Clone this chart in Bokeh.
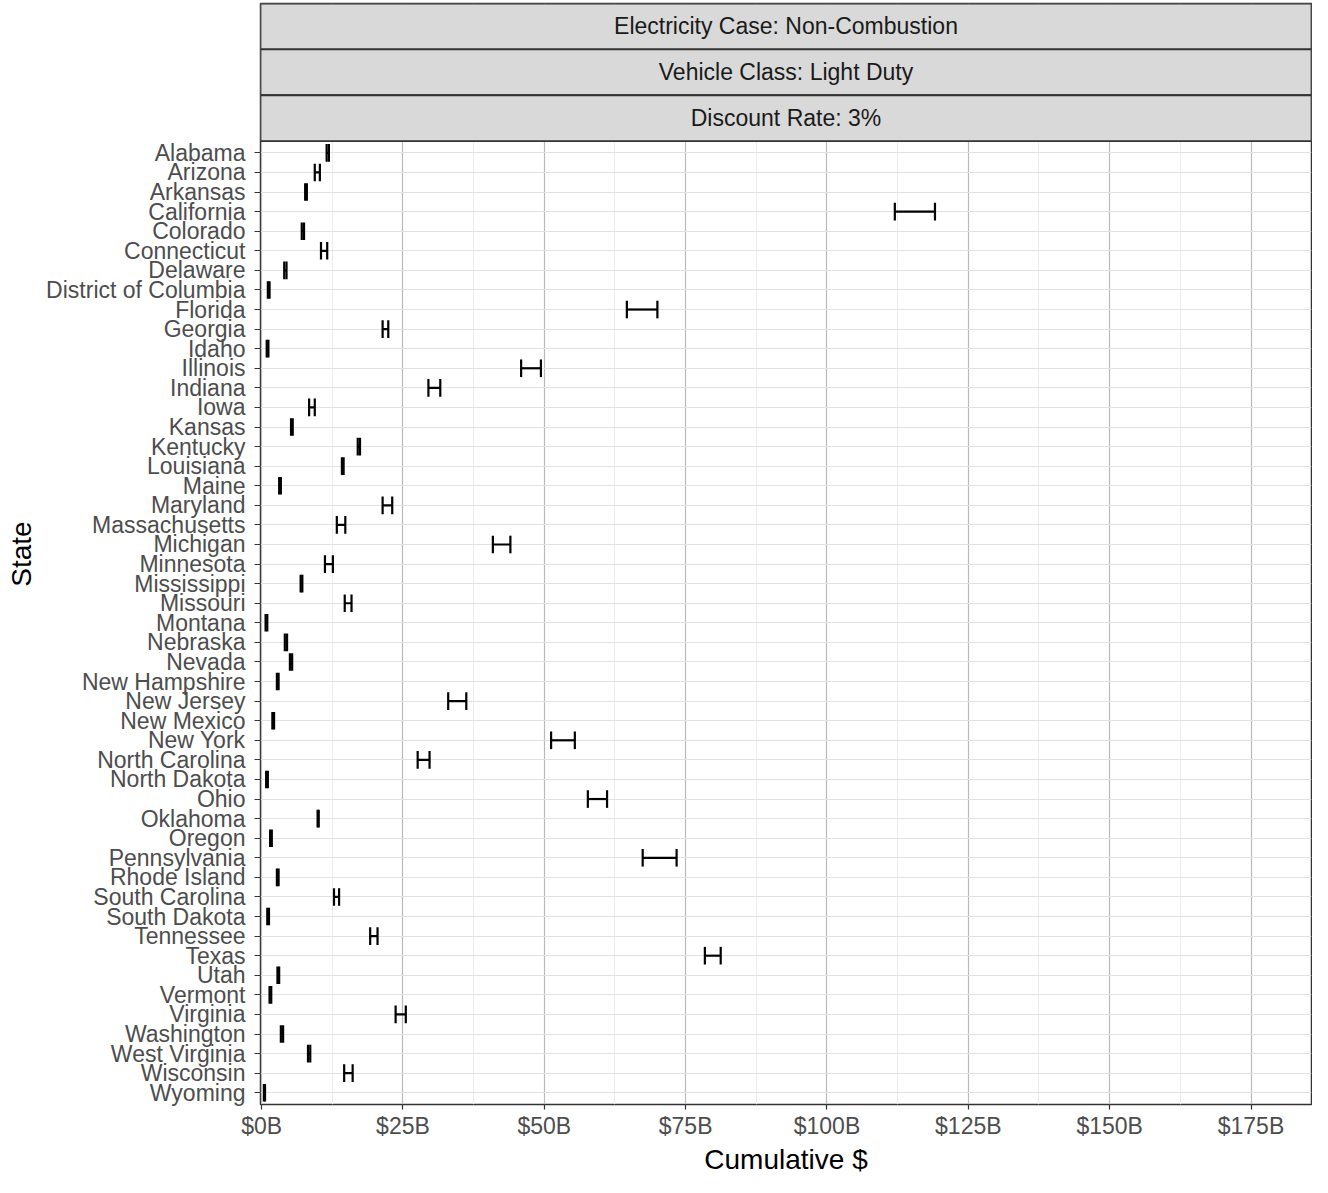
from bokeh.plotting import figure
from bokeh.models import Range1d, FixedTicker, ColumnDataSource
from bokeh.core.properties import value
from bokeh.embed import file_html
from bokeh.resources import INLINE

STATES = ["Alabama", "Arizona", "Arkansas", "California", "Colorado", "Connecticut",
          "Delaware", "District of Columbia", "Florida", "Georgia", "Idaho", "Illinois",
          "Indiana", "Iowa", "Kansas", "Kentucky", "Louisiana", "Maine", "Maryland",
          "Massachusetts", "Michigan", "Minnesota", "Mississippi", "Missouri", "Montana",
          "Nebraska", "Nevada", "New Hampshire", "New Jersey", "New Mexico", "New York",
          "North Carolina", "North Dakota", "Ohio", "Oklahoma", "Oregon", "Pennsylvania",
          "Rhode Island", "South Carolina", "South Dakota", "Tennessee", "Texas", "Utah",
          "Vermont", "Virginia", "Washington", "West Virginia", "Wisconsin", "Wyoming"]

LOW = [11.5, 9.4, 7.7, 112.0, 7.1, 10.5,
       4.0, 1.1, 64.6, 21.4, 0.9, 45.9,
       29.5, 8.4, 5.2, 17.0, 14.2, 3.1, 21.4,
       13.3, 40.9, 11.2, 6.9, 14.7, 0.7,
       4.1, 5.0, 2.7, 33.0, 1.9, 51.2,
       27.6, 0.8, 57.7, 9.9, 1.5, 67.4,
       2.7, 12.8, 1.0, 19.2, 78.4, 2.8,
       1.4, 23.7, 3.4, 8.2, 14.6, 0.4]

HIGH = [11.9, 10.3, 8.0, 119.1, 7.5, 11.6,
        4.4, 1.4, 70.0, 22.4, 1.2, 49.4,
        31.6, 9.4, 5.5, 17.4, 14.5, 3.4, 23.1,
        14.8, 44.0, 12.6, 7.2, 15.9, 1.0,
        4.5, 5.4, 3.0, 36.2, 2.2, 55.4,
        29.7, 1.1, 61.1, 10.1, 1.8, 73.4,
        3.0, 13.7, 1.3, 20.5, 81.2, 3.1,
        1.7, 25.5, 3.8, 8.6, 16.1, 0.6]

XTICKS = [0, 25, 50, 75, 100, 125, 150, 175]
XTICK_LABELS = ["$0B", "$25B", "$50B", "$75B", "$100B", "$125B", "$150B", "$175B"]
XMINOR = [12.5, 37.5, 62.5, 87.5, 112.5, 137.5, 162.5, 187.5]

STRIP_LABELS = ["Electricity Case: Non-Combustion", "Vehicle Class: Light Duty", "Discount Rate: 3%"]

FONT = "Liberation Sans"
W, H = 1312, 1177
BORDER_L, BORDER_R, BORDER_T, BORDER_B = 260, 1, 3, 70
FRAME_H = H - BORDER_T - BORDER_B
STRIP_PX = 46
n = len(STATES)
panel_units = (n - 1) + 1.2
unit_px = (FRAME_H - 3 * STRIP_PX) / panel_units
strip_u = STRIP_PX / unit_px
y_bottom = (n - 1) + 0.6
y_panel_top = -0.6
y_top = y_panel_top - 3 * strip_u

X0, X1 = -0.2, 185.7

p = figure(width=W, height=H, output_backend="svg", toolbar_location=None,
           x_range=Range1d(X0, X1), y_range=Range1d(y_bottom, y_top),
           min_border_left=BORDER_L, min_border_right=BORDER_R,
           min_border_top=BORDER_T, min_border_bottom=BORDER_B)

p.background_fill_color = "white"
p.border_fill_color = "white"
p.outline_line_color = "#333333"
p.outline_line_width = 1.5

# grids
p.xgrid.ticker = FixedTicker(ticks=XTICKS, minor_ticks=XMINOR)
p.xgrid.grid_line_color = "#BABABA"
p.xgrid.grid_line_width = 1.2
p.xgrid.minor_grid_line_color = "#ECECEC"
p.xgrid.minor_grid_line_width = 1
p.ygrid.ticker = FixedTicker(ticks=list(range(n)))
p.ygrid.grid_line_color = "#E2E2E2"
p.ygrid.grid_line_width = 1.2

# x axis
p.xaxis.ticker = FixedTicker(ticks=XTICKS, minor_ticks=[])
p.xaxis.major_label_overrides = {t: l for t, l in zip(XTICKS, XTICK_LABELS)}
p.xaxis.axis_line_color = None
p.xaxis.major_tick_line_color = "#333333"
p.xaxis.major_tick_line_width = 1.2
p.xaxis.major_tick_out = 5
p.xaxis.major_tick_in = 0
p.xaxis.minor_tick_line_color = None
p.xaxis.major_label_text_font = FONT
p.xaxis.major_label_text_font_size = "23px"
p.xaxis.major_label_text_color = "#4D4D4D"
p.xaxis.major_label_standoff = 3
p.xaxis.axis_label = "Cumulative $"
p.xaxis.axis_label_text_font = FONT
p.xaxis.axis_label_text_font_size = "28px"
p.xaxis.axis_label_text_font_style = "normal"
p.xaxis.axis_label_text_color = "black"
p.xaxis.axis_label_standoff = 2

# y axis
p.yaxis.ticker = FixedTicker(ticks=list(range(n)), minor_ticks=[])
p.yaxis.major_label_overrides = {i: s for i, s in enumerate(STATES)}
p.yaxis.axis_line_color = None
p.yaxis.major_tick_line_color = "#333333"
p.yaxis.major_tick_line_width = 1.2
p.yaxis.major_tick_out = 6
p.yaxis.major_tick_in = 0
p.yaxis.minor_tick_line_color = None
p.yaxis.major_label_text_font = FONT
p.yaxis.major_label_text_font_size = "23px"
p.yaxis.major_label_text_color = "#4D4D4D"
p.yaxis.major_label_standoff = 9
p.yaxis.axis_label = "State"
p.yaxis.axis_label_text_font = FONT
p.yaxis.axis_label_text_font_size = "28px"
p.yaxis.axis_label_text_font_style = "normal"
p.yaxis.axis_label_text_color = "black"
p.yaxis.axis_label_standoff = 6

# error bars
ys = list(range(n))
src = ColumnDataSource(dict(
    y=ys, low=LOW, high=HIGH,
    ya=[y - 0.45 for y in ys], yb=[y + 0.45 for y in ys],
))
p.segment(x0="low", x1="high", y0="y", y1="y", source=src, line_color="black", line_width=2.2)
p.segment(x0="low", x1="low", y0="ya", y1="yb", source=src, line_color="black", line_width=2.2)
p.segment(x0="high", x1="high", y0="ya", y1="yb", source=src, line_color="black", line_width=2.2)

# facet strips
tops = [y_top + i * strip_u for i in range(3)]
bots = [y_top + (i + 1) * strip_u for i in range(3)]
p.quad(left=[X0] * 3, right=[X1] * 3, top=tops, bottom=bots,
       fill_color="#D9D9D9", line_color="#333333", line_width=1.8)
p.text(x=[(X0 + X1) / 2] * 3, y=[(a + b) / 2 for a, b in zip(tops, bots)], text=STRIP_LABELS,
       text_align="center", text_baseline="middle", text_font=value(FONT),
       text_font_size="23px", text_color="#1A1A1A")

open("out.html", "w").write(file_html(p, INLINE))
